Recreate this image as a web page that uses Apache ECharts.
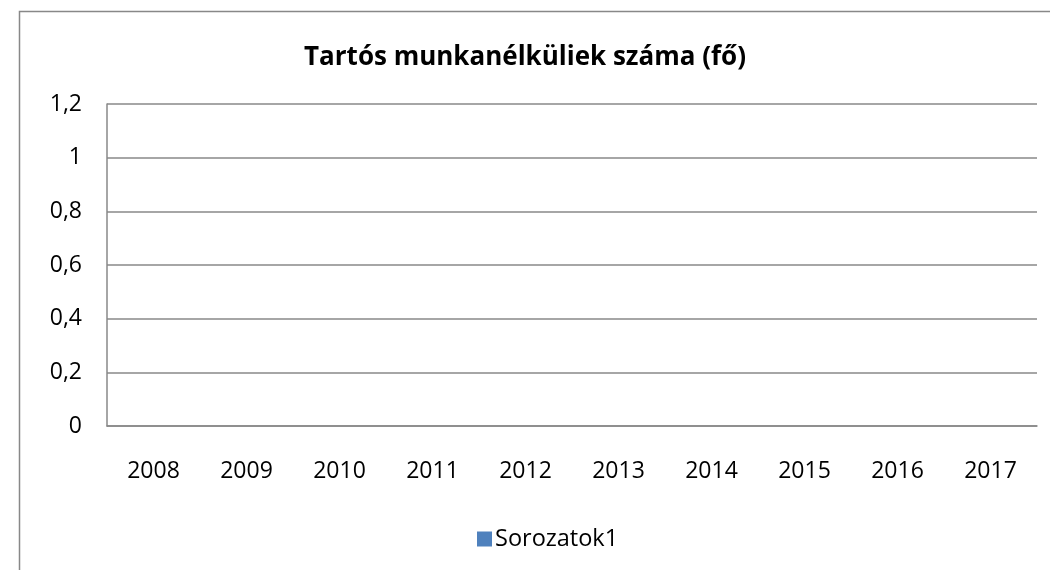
<!DOCTYPE html>
<html>
<head>
<meta charset="utf-8">
<script src="https://cdn.jsdelivr.net/npm/echarts@6/dist/echarts.min.js"></script>
<style>
  html, body { margin: 0; padding: 0; background: #fff; }
  #chart { width: 1050px; height: 570px; }
</style>
</head>
<body>
<div id="chart"></div>
<script>
// adatok
const years = ["2008", "2009", "2010", "2011", "2012", "2013", "2014", "2015", "2016", "2017"];
const sorozatok1 = [0, 0, 0, 0, 0, 0, 0, 0, 0, 0];
const yTicks = [0, 0.2, 0.4, 0.6, 0.8, 1, 1.2];

const font = "Open Sans";
let mychart = echarts.init(document.getElementById("chart"));
mychart.setOption({
  animation: false,
  textStyle: { fontFamily: font },
  graphic: [
    {
      type: "rect",
      shape: { x: 19.5, y: 11.5, width: 1100, height: 600 },
      style: { fill: null, stroke: "#888", lineWidth: 1.5 },
      silent: true
    }
  ],
  title: {
    text: "Tartós munkanélküliek száma (fő)",
    left: "center",
    top: 40,
    textStyle: { fontFamily: font, fontSize: 26, fontWeight: "bold", color: "#000" }
  },
  legend: {
    data: ["Sorozatok1"],
    top: 522,
    left: 472,
    itemWidth: 15,
    itemHeight: 15,
    itemGap: 6,
    icon: "rect",
    textStyle: { fontFamily: font, fontSize: 23.5, color: "#000", padding: [0, 0, 0, -2] }
  },
  grid: { left: 107, right: 13, top: 104, bottom: 144, containLabel: false },
  xAxis: {
    type: "category",
    data: years,
    axisLine: { lineStyle: { color: "#888", width: 1.5 } },
    axisTick: { show: false },
    axisLabel: { color: "#000", fontSize: 23, margin: 34 }
  },
  yAxis: {
    type: "value",
    min: yTicks[0],
    max: yTicks[yTicks.length - 1],
    interval: 0.2,
    axisLine: { show: true, lineStyle: { color: "#888", width: 1.5 } },
    axisTick: { show: false },
    splitLine: { lineStyle: { color: "#888", width: 1.5 } },
    axisLabel: {
      color: "#000",
      fontSize: 23,
      margin: 25,
      formatter: v => String(Math.round(v * 10) / 10).replace(".", ",")
    }
  },
  series: [
    {
      name: "Sorozatok1",
      type: "bar",
      data: sorozatok1,
      itemStyle: { color: "#4f81bd" }
    }
  ]
});
</script>
</body>
</html>
